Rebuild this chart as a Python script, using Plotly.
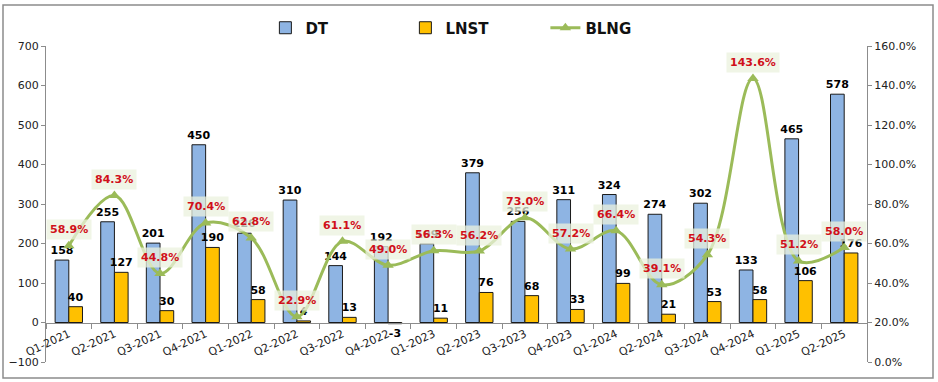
import plotly.graph_objects as go

categories = ["Q1-2021", "Q2-2021", "Q3-2021", "Q4-2021", "Q1-2022", "Q2-2022",
              "Q3-2022", "Q4-2022", "Q1-2023", "Q2-2023", "Q3-2023", "Q4-2023",
              "Q1-2024", "Q2-2024", "Q3-2024", "Q4-2024", "Q1-2025", "Q2-2025"]
dt = [158, 255, 201, 450, 226, 310, 144, 192, 199, 379, 256, 311, 324, 274, 302, 133, 465, 578]
lnst = [40, 127, 30, 190, 58, 4, 13, -3, 11, 76, 68, 33, 99, 21, 53, 58, 106, 176]
blng = [58.9, 84.3, 44.8, 70.4, 62.8, 22.9, 61.1, 49.0, 56.3, 56.2, 73.0, 57.2,
        66.4, 39.1, 54.3, 143.6, 51.2, 58.0]

W, H = 938, 382
ML, MR, MT, MB = 46, 71, 46, 20
FONT = "DejaVu Sans"

fig = go.Figure()
fig.add_trace(go.Bar(
    x=categories, y=dt, name="DT",
    marker=dict(color="#8EB4E3", line=dict(color="#1a1a1a", width=1)),
    text=[str(v) for v in dt], textposition="outside", constraintext="none",
    textangle=0,
    textfont=dict(family=FONT, size=11, color="black", weight="bold"),
    cliponaxis=False,
))
fig.add_trace(go.Bar(
    x=categories, y=lnst, name="LNST",
    marker=dict(color="#FFC000", line=dict(color="#1a1a1a", width=1)),
    text=[str(v) for v in lnst], textposition="outside", constraintext="none",
    textangle=0,
    textfont=dict(family=FONT, size=11, color="black", weight="bold"),
    cliponaxis=False,
))
fig.add_trace(go.Scatter(
    x=categories, y=blng, name="BLNG", yaxis="y2",
    mode="lines+markers",
    line=dict(color="#9BBB59", width=3, shape="spline", smoothing=1.0),
    marker=dict(symbol="triangle-up", size=10, color="#9BBB59"),
    cliponaxis=False,
))

annotations = []
for c, v in zip(categories, blng):
    annotations.append(dict(
        x=c, y=v, xref="x", yref="y2", text=f"{v:.1f}%", showarrow=False,
        yshift=16, font=dict(family=FONT, size=11, color="#D0101A", weight="bold"),
        bgcolor="rgba(235,241,222,0.75)", borderpad=3,
    ))

pw = W - ML - MR
ph = H - MT - MB
fig.add_shape(type="rect", xref="paper", yref="paper",
              x0=(3 - ML) / pw, x1=(933 - ML) / pw,
              y0=(H - MB - 378) / ph, y1=(H - MB - 5) / ph,
              line=dict(color="#8c8c8c", width=1.5), layer="below")

fig.update_layout(
    width=W, height=H,
    margin=dict(l=ML, r=MR, t=MT, b=MB, autoexpand=False),
    paper_bgcolor="white", plot_bgcolor="white",
    barmode="group", bargap=0.4, bargroupgap=0.0,
    font=dict(family=FONT, size=11, color="#222"),
    showlegend=True,
    legend=dict(orientation="h", x=0.523, xanchor="center", y=1.057, yanchor="middle",
                font=dict(family=FONT, size=15, color="#111", weight="bold"),
                entrywidth=95, bgcolor="rgba(0,0,0,0)"),
    annotations=annotations,
    xaxis=dict(
        type="category", anchor="free", position=100 / 800,
        range=[-0.5, len(categories) - 0.5], autorange=False,
        showline=True, linecolor="#8c8c8c", linewidth=1,
        ticks="outside", ticklen=5, tickcolor="#8c8c8c", tickson="boundaries",
        tickangle=-25, tickfont=dict(family=FONT, size=11, color="#222"),
        showgrid=False, zeroline=False,
    ),
    yaxis=dict(
        range=[-100, 700], dtick=100, showline=True, linecolor="#8c8c8c", linewidth=1,
        ticks="outside", ticklen=4, tickcolor="#8c8c8c",
        tickfont=dict(family=FONT, size=11, color="#222"),
        showgrid=False, zeroline=False,
    ),
    yaxis2=dict(
        range=[0, 160], dtick=20, overlaying="y", side="right",
        showline=True, linecolor="#8c8c8c", linewidth=1,
        ticks="outside", ticklen=4, tickcolor="#8c8c8c",
        tickformat=".1f", ticksuffix="%",
        tickfont=dict(family=FONT, size=11, color="#222"),
        showgrid=False, zeroline=False,
    ),
)

fig.write_html("out.html", config={"displayModeBar": False},
               post_script="document.body.style.margin='0';")
